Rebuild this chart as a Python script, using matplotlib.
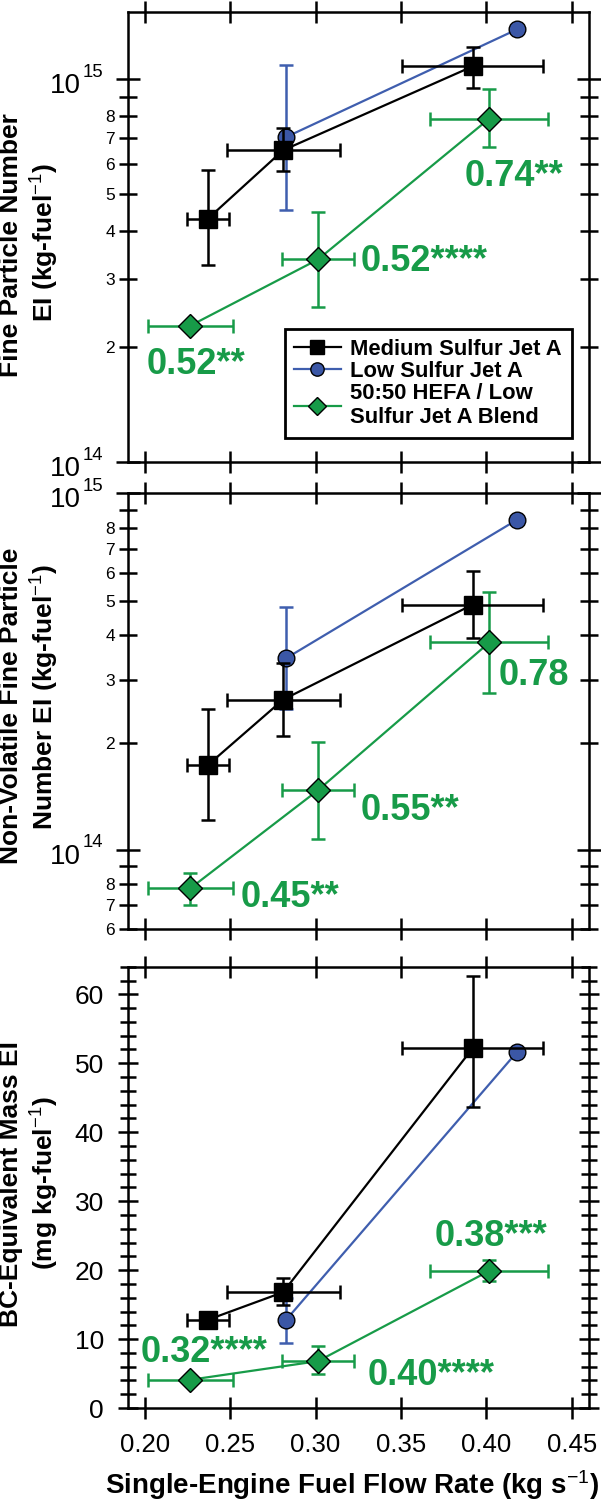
import numpy as np
import matplotlib
matplotlib.use('Agg')
import matplotlib.pyplot as plt
from matplotlib.ticker import MultipleLocator, LogLocator, FuncFormatter, NullFormatter
from matplotlib.lines import Line2D

# fuel flow rate (kg/s) and horizontal error half-widths
x_med = [0.237, 0.281, 0.392]
xerr_med = [0.0123, 0.0331, 0.0412]
x_low = [0.2828, 0.4181]
x_hefa = [0.2267, 0.3014, 0.4017]
xerr_hefa = [0.025, 0.021, 0.0345]

# fine particle number EI (kg-fuel^-1): value, lower and upper bar ends
fp_med = [4.32e14, 6.52e14, 1.08e15]
fp_med_lo = [3.27e14, 5.75e14, 9.5e14]
fp_med_hi = [5.78e14, 7.46e14, 1.215e15]
fp_low = [7.06e14, 1.35e15]
fp_low_lo = [4.55e14, 1.35e15]
fp_low_hi = [1.09e15, 1.35e15]
fp_hefa = [2.27e14, 3.38e14, 7.89e14]
fp_hefa_lo = [2.27e14, 2.54e14, 6.66e14]
fp_hefa_hi = [2.27e14, 4.49e14, 9.4e14]
fp_notes = ['0.52**', '0.52****', '0.74**']
fp_note_x = [0.2011, 0.3261, 0.3872]
fp_note_y = [1.70e14, 3.16e14, 5.25e14]

# non-volatile fine particle number EI
nv_med = [1.73e14, 2.64e14, 4.88e14]
nv_med_lo = [1.21e14, 2.09e14, 3.94e14]
nv_med_hi = [2.48e14, 3.34e14, 6.05e14]
nv_low = [3.45e14, 8.45e14]
nv_low_lo = [2.48e14, 8.45e14]
nv_low_hi = [4.80e14, 8.45e14]
nv_hefa = [7.8e13, 1.47e14, 3.82e14]
nv_hefa_lo = [7.0e13, 1.07e14, 2.75e14]
nv_hefa_hi = [8.63e13, 2.01e14, 5.29e14]
nv_notes = ['0.45**', '0.55**', '0.78']
nv_note_x = [0.2559, 0.3266, 0.4069]
nv_note_y = [6.93e13, 1.21e14, 2.91e14]

# BC-equivalent mass EI (mg kg-fuel^-1)
bc_med = [12.8, 16.8, 52.2]
bc_med_lo = [12.2, 15.0, 43.7]
bc_med_hi = [13.4, 18.9, 62.7]
bc_low = [12.8, 51.7]
bc_low_lo = [9.5, 51.7]
bc_low_hi = [16.0, 51.7]
bc_hefa = [4.1, 6.8, 19.9]
bc_hefa_lo = [4.1, 5.0, 18.4]
bc_hefa_hi = [4.1, 8.95, 21.5]
bc_notes = ['0.32****', '0.40****', '0.38***']
bc_note_x = [0.1978, 0.3306, 0.3699]
bc_note_y = [6.7, 3.4, 23.5]

labels = ['Medium Sulfur Jet A', 'Low Sulfur Jet A', '50:50 HEFA / Low\nSulfur Jet A Blend']
GREEN = '#179b48'
BLUE = '#3b57a6'
BLUE_LINE = '#3f5eae'

plt.rcParams['font.family'] = ['Liberation Sans', 'DejaVu Sans']
plt.rcParams['mathtext.fontset'] = 'custom'
plt.rcParams['mathtext.rm'] = 'Liberation Sans'
plt.rcParams['mathtext.it'] = 'Liberation Sans:italic'
plt.rcParams['mathtext.bf'] = 'Liberation Sans:bold'


def yerr(y, lo, hi):
	y = np.array(y); lo = np.array(lo); hi = np.array(hi)
	return [y - lo, hi - y]


def log_minor(v, pos):
	e = np.floor(np.log10(v) + 1e-9)
	m = int(np.round(v / 10 ** e))
	if 2 <= m <= 8:
		return '%d' % m
	return ''


def decade_labels(ax, decades):
	# "10" with a small raised exponent, placed left of the spine
	for e in decades:
		ax.annotate('10', xy=(0, 10.0 ** e), xycoords=('axes fraction', 'data'), xytext=(-33.8, -4.9),
			textcoords='offset points', ha='right', va='center', fontsize=20, annotation_clip=False)
		ax.annotate('%d' % e, xy=(0, 10.0 ** e), xycoords=('axes fraction', 'data'), xytext=(-32.1, 5.0),
			textcoords='offset points', ha='left', va='center', fontsize=13.4, annotation_clip=False)


def two_line_ylabel(line1, line2, y1, y2):
	# y positions in pixels from the top of the 601x1500 figure
	fig.text(11.5 / 601, 1 - y1 / 1500, line1, rotation=90, ha='center', va='center', fontsize=19, fontweight='bold')
	fig.text(45.0 / 601, 1 - y2 / 1500, line2, rotation=90, ha='center', va='center', fontsize=19, fontweight='bold')


def draw_panel(ax, med, med_lo, med_hi, low, low_lo, low_hi, hefa, hefa_lo, hefa_hi, notes, nx, ny):
	# green first, then blue, black on top
	ax.errorbar(x_hefa, hefa, xerr=xerr_hefa, yerr=yerr(hefa, hefa_lo, hefa_hi), fmt='none',
		ecolor=GREEN, elinewidth=1.8, capsize=4.8, capthick=1.8, zorder=2)
	ax.plot(x_hefa, hefa, color=GREEN, lw=1.6, marker='D', ms=12, mfc=GREEN, mec='k', mew=1.0, zorder=3)
	ax.errorbar(x_low, low, yerr=yerr(low, low_lo, low_hi), fmt='none',
		ecolor=BLUE_LINE, elinewidth=1.8, capsize=4.8, capthick=1.8, zorder=4)
	ax.plot(x_low, low, color=BLUE_LINE, lw=1.6, marker='o', ms=12, mfc=BLUE, mec='k', mew=1.0, zorder=5)
	ax.errorbar(x_med, med, xerr=xerr_med, yerr=yerr(med, med_lo, med_hi), fmt='none',
		ecolor='k', elinewidth=1.8, capsize=4.8, capthick=1.8, zorder=6)
	ax.plot(x_med, med, color='k', lw=1.6, marker='s', ms=12.5, mfc='k', mec='k', zorder=7)
	for s, tx, ty in zip(notes, nx, ny):
		ax.text(tx, ty, s, color=GREEN, fontsize=26, fontweight='bold', ha='left', va='baseline', zorder=8)
	ax.set_xlim(0.19, 0.46)
	ax.xaxis.set_major_locator(MultipleLocator(0.05))
	ax.tick_params(axis='x', which='major', direction='inout', length=16, width=1.8,
		top=True, bottom=True, labelsize=18.5, pad=10)
	ax.tick_params(axis='y', which='both', direction='inout', width=1.8, left=True, right=True)
	for sp in ax.spines.values():
		sp.set_linewidth(1.8)


fig = plt.figure(figsize=(6.01, 15), dpi=100)
ax1 = fig.add_axes([0.2123, 0.692, 0.7677, 0.3002])
ax2 = fig.add_axes([0.2123, 0.3807, 0.7677, 0.2903])
ax3 = fig.add_axes([0.2123, 0.0613, 0.7677, 0.2942])

draw_panel(ax1, fp_med, fp_med_lo, fp_med_hi, fp_low, fp_low_lo, fp_low_hi,
	fp_hefa, fp_hefa_lo, fp_hefa_hi, fp_notes, fp_note_x, fp_note_y)
draw_panel(ax2, nv_med, nv_med_lo, nv_med_hi, nv_low, nv_low_lo, nv_low_hi,
	nv_hefa, nv_hefa_lo, nv_hefa_hi, nv_notes, nv_note_x, nv_note_y)
draw_panel(ax3, bc_med, bc_med_lo, bc_med_hi, bc_low, bc_low_lo, bc_low_hi,
	bc_hefa, bc_hefa_lo, bc_hefa_hi, bc_notes, bc_note_x, bc_note_y)

for ax, lim in [(ax1, (1e14, 1.5e15)), (ax2, (6e13, 1e15))]:
	ax.set_yscale('log')
	ax.set_ylim(*lim)
	ax.yaxis.set_major_locator(LogLocator(base=10, numticks=10))
	ax.yaxis.set_minor_locator(LogLocator(base=10, subs=np.arange(2, 10), numticks=10))
	ax.yaxis.set_major_formatter(NullFormatter())
	ax.yaxis.set_minor_formatter(FuncFormatter(log_minor))
	ax.tick_params(axis='y', which='major', length=17)
	ax.tick_params(axis='y', which='minor', length=12.5, labelsize=12.5, pad=2.8)
	ax.tick_params(axis='x', labelbottom=False)
	decade_labels(ax, [14, 15])

ax3.set_ylim(0, 64)
ax3.yaxis.set_major_locator(MultipleLocator(10))
ax3.yaxis.set_minor_locator(MultipleLocator(2))
ax3.yaxis.set_minor_formatter(NullFormatter())
ax3.tick_params(axis='y', which='major', length=15, labelsize=19, pad=9.5)
ax3.tick_params(axis='y', which='minor', length=11)

two_line_ylabel('Fine Particle Number', 'EI (kg-fuel$^{-1}$)', 245, 243)
two_line_ylabel('Non-Volatile Fine Particle', 'Number EI (kg-fuel$^{-1}$)', 706, 697)
two_line_ylabel('BC-Equivalent Mass EI', '(mg kg-fuel$^{-1}$)', 1184, 1183)
ax3.set_xlabel('Single-Engine Fuel Flow Rate (kg s$^{-1}$)', fontsize=20, fontweight='bold')
ax3.xaxis.set_label_coords(0.4855, -0.136)

handles = [Line2D([], [], color='k', lw=1.6, marker='s', ms=12.5, mfc='k', mec='k'),
	Line2D([], [], color=BLUE_LINE, lw=1.6, marker='o', ms=12, mfc=BLUE, mec='k', mew=1.0),
	Line2D([], [], color=GREEN, lw=1.6, marker='D', ms=12, mfc=GREEN, mec='k', mew=1.0)]
leg = ax1.legend(handles, labels, loc='lower right', bbox_to_anchor=(0.963, 0.053), borderaxespad=0,
	prop={'weight': 'bold', 'size': 15.8}, fancybox=False, framealpha=1, edgecolor='k',
	markerscale=0.8, handlelength=2.1, handletextpad=0.45, labelspacing=0.05, borderpad=0.45)
leg.get_frame().set_linewidth(2)
leg.set_zorder(10)

fig.savefig('out.png', dpi=100)
